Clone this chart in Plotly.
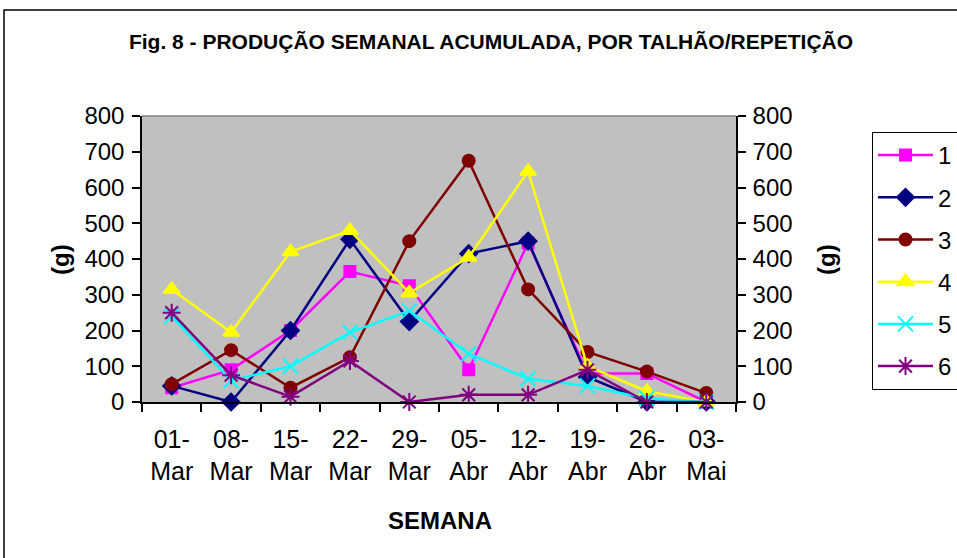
import plotly.graph_objects as go

categories = ["01-<br>Mar", "08-<br>Mar", "15-<br>Mar", "22-<br>Mar", "29-<br>Mar",
              "05-<br>Abr", "12-<br>Abr", "19-<br>Abr", "26-<br>Abr", "03-<br>Mai"]
s1 = [40, 90, 200, 365, 325, 90, 445, 80, 80, 0]
s2 = [45, 0, 200, 455, 225, 415, 450, 70, 0, 0]
s3 = [50, 145, 40, 125, 450, 675, 315, 140, 85, 25]
s4 = [315, 195, 420, 480, 305, 405, 645, 100, 30, 0]
s5 = [240, 60, 100, 195, 255, 135, 65, 45, 10, 0]
s6 = [250, 75, 15, 115, 0, 20, 20, 90, 0, 0]
names = ["1", "2", "3", "4", "5", "6"]
series = [s1, s2, s3, s4, s5, s6]
colors = ["#FF00FF", "#000080", "#800000", "#FFFF00", "#00FFFF", "#800080"]
symbols = ["square", "diamond", "circle", "triangle-up", "x-thin-open", "asterisk-open"]
sizes = [11, 13, 12, 14, 15, 15]

W, H = 957, 558
L, R, T, B = 142, 736, 116, 402

fig = go.Figure()
for n, s, c, sym, sz in zip(names, series, colors, symbols, sizes):
    fig.add_trace(go.Scatter(
        x=categories, y=s, name=n, mode="lines+markers", legendgroup=n,
        line=dict(color=c, width=2.5),
        marker=dict(symbol=sym, size=sz, color=c, line=dict(color=c, width=2)),
        cliponaxis=False,
    ))
# dummy trace to anchor right axis
fig.add_trace(go.Scatter(x=categories, y=[None] * len(categories), yaxis="y2",
                         showlegend=False, hoverinfo="skip"))

pw = R - L
ph = B - T
def px_x(v):
    return (v - L) / pw
def px_y(v):
    return (B - v) / ph

axis_common = dict(showgrid=False, zeroline=False, showline=True, linecolor="black",
                   linewidth=1.5, ticks="outside", ticklen=8, tickcolor="black",
                   tickwidth=1.5, fixedrange=True)

fig.update_layout(
    width=W, height=H,
    margin=dict(l=L, r=W - R, t=T, b=H - B, pad=0, autoexpand=False),
    paper_bgcolor="white",
    plot_bgcolor="#C0C0C0",
    font=dict(family="Liberation Sans, Arial, sans-serif", size=24, color="black"),
    title=dict(text="<b>Fig. 8 - PRODUÇÃO SEMANAL ACUMULADA, POR TALHÃO/REPETIÇÃO</b>",
               x=491 / W, xanchor="center", xref="container",
               y=1 - 42 / H, yanchor="middle", yref="container",
               font=dict(size=21)),
    xaxis=dict(type="category", range=[-0.5, 9.5], tickson="boundaries",
               tickfont=dict(size=25), ticklabelstandoff=14, **axis_common),
    yaxis=dict(range=[0, 800], dtick=100, tickfont=dict(size=24),
               ticklabelstandoff=3, **axis_common),
    yaxis2=dict(range=[0, 800], dtick=100, overlaying="y", side="right",
                tickfont=dict(size=24), ticklabelstandoff=2, **axis_common),
    legend=dict(x=872 / W, xanchor="left", xref="container",
                y=1 - 132 / H, yanchor="top", yref="container",
                bgcolor="white", bordercolor="black", borderwidth=1,
                font=dict(size=24), tracegroupgap=8, itemwidth=55),
    showlegend=True,
)

# plot area top border (gray)
fig.add_shape(type="line", xref="paper", yref="paper", x0=0, x1=1, y0=1, y1=1,
              line=dict(color="#808080", width=1.5))
# outer chart border
fig.add_shape(type="rect", xref="paper", yref="paper",
              x0=px_x(4), x1=px_x(962), y0=px_y(565), y1=px_y(10),
              line=dict(color="black", width=1.5), layer="below")

fig.add_annotation(text="<b>(g)</b>", x=px_x(60), y=px_y(260), xref="paper", yref="paper",
                   showarrow=False, textangle=-90, font=dict(size=24),
                   xanchor="center", yanchor="middle")
fig.add_annotation(text="<b>(g)</b>", x=px_x(826), y=px_y(260), xref="paper", yref="paper",
                   showarrow=False, textangle=-90, font=dict(size=24),
                   xanchor="center", yanchor="middle")
fig.add_annotation(text="<b>SEMANA</b>", x=px_x(440), y=px_y(520), xref="paper", yref="paper",
                   showarrow=False, font=dict(size=24),
                   xanchor="center", yanchor="middle")

fig.write_html("out.html", config={"displayModeBar": False},
               post_script="document.body.style.margin='0';document.body.style.overflow='hidden';")
